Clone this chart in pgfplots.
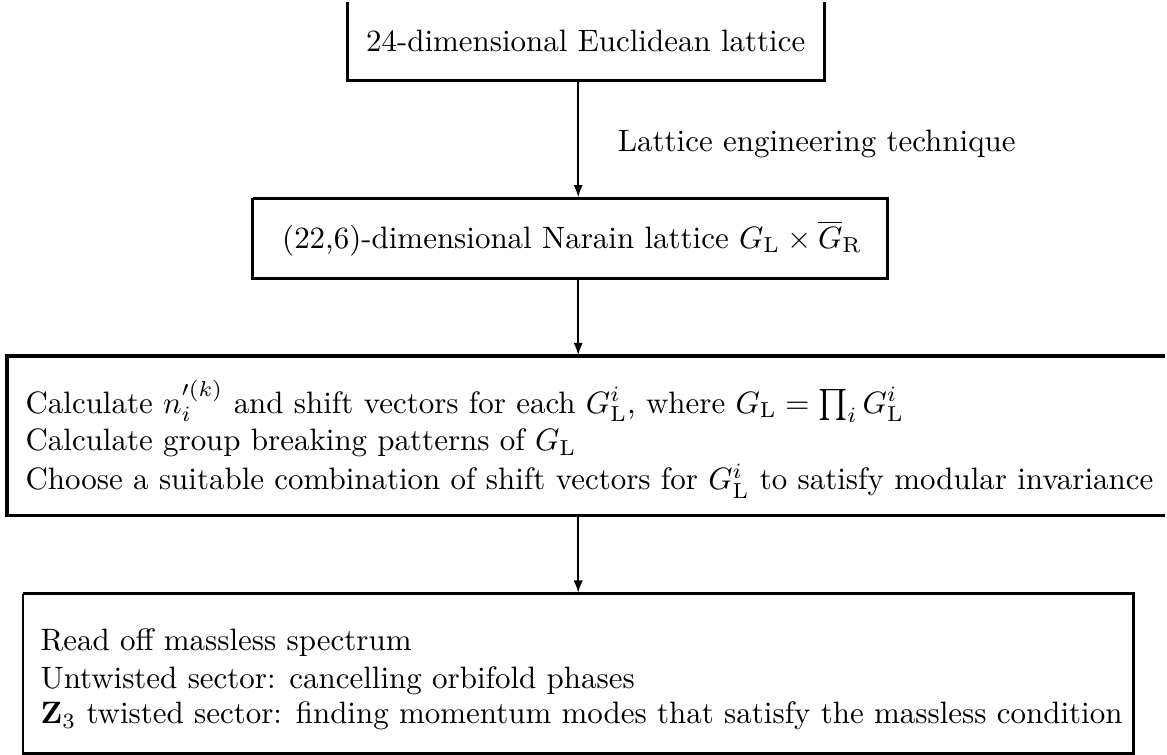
\documentclass[border=0pt]{standalone}
\usepackage{pgfplots}
\pgfplotsset{compat=1.18}
\usetikzlibrary{arrows.meta}
\begin{document}
\begin{tikzpicture}
\begin{axis}[
  width=376.45pt, height=243.2pt, scale only axis,
  xmin=0, xmax=1167, ymin=0, ymax=754, y dir=reverse,
  hide axis, clip=false,
]
% invisible frame to fix the bounding box
\addplot[draw=none] coordinates {(0,0) (1167,754)};
% box 1 (top cut off)
\addplot[black, line width=1.05pt] coordinates {(348,0) (348,79) (826,79) (826,0)};
% box 2
\addplot[black, line width=0.9pt] coordinates {(253,197) (889,197) (889,277) (253,277) (253,197)};
% box 3 (right side cut off)
\addplot[black, line width=1.05pt] coordinates {(1167,355) (7,355) (7,515) (1167,515)};
% box 4
\addplot[black, line width=0.9pt] coordinates {(23,593) (1135,593) (1135,753) (23,753) (23,593)};
% arrows
\addplot[black, line width=0.6pt, -{Latex[length=4pt,width=3pt]}, shorten >=0.3pt] coordinates {(579,79) (579,197)};
\addplot[black, line width=0.6pt, -{Latex[length=4pt,width=3pt]}, shorten >=0.3pt] coordinates {(579,277) (579,355)};
\addplot[black, line width=0.6pt, -{Latex[length=4pt,width=3pt]}, shorten >=0.3pt] coordinates {(579,515) (579,593)};
% texts
\node[anchor=base west, inner sep=0pt] at (axis cs:366,50) {24-dimensional Euclidean lattice};
\node[anchor=base west, inner sep=0pt] at (axis cs:618,150) {Lattice engineering technique};
\node[anchor=base west, inner sep=0pt] at (axis cs:282,247) {(22,6)-dimensional Narain lattice $G_{\mathrm{L}}\times\overline{G}_{\mathrm{R}}$};
\node[anchor=base west, inner sep=0pt] at (axis cs:25,412) {Calculate $n_i^{\prime(k)}$ and shift vectors for each $G_{\mathrm{L}}^i$, where $G_{\mathrm{L}}=\prod_i G_{\mathrm{L}}^i$};
\node[anchor=base west, inner sep=0pt] at (axis cs:25,450) {Calculate group breaking patterns of $G_{\mathrm{L}}$};
\node[anchor=base west, inner sep=0pt] at (axis cs:25,489) {Choose a suitable combination of shift vectors for $G_{\mathrm{L}}^i$ to satisfy modular invariance};
\node[anchor=base west, inner sep=0pt] at (axis cs:40,650) {Read off massless spectrum};
\node[anchor=base west, inner sep=0pt] at (axis cs:40,688) {Untwisted sector: cancelling orbifold phases};
\node[anchor=base west, inner sep=0pt] at (axis cs:40,723) {$\mathbf{Z}_3$ twisted sector: finding momentum modes that satisfy the massless condition};
\end{axis}
\end{tikzpicture}
\end{document}
